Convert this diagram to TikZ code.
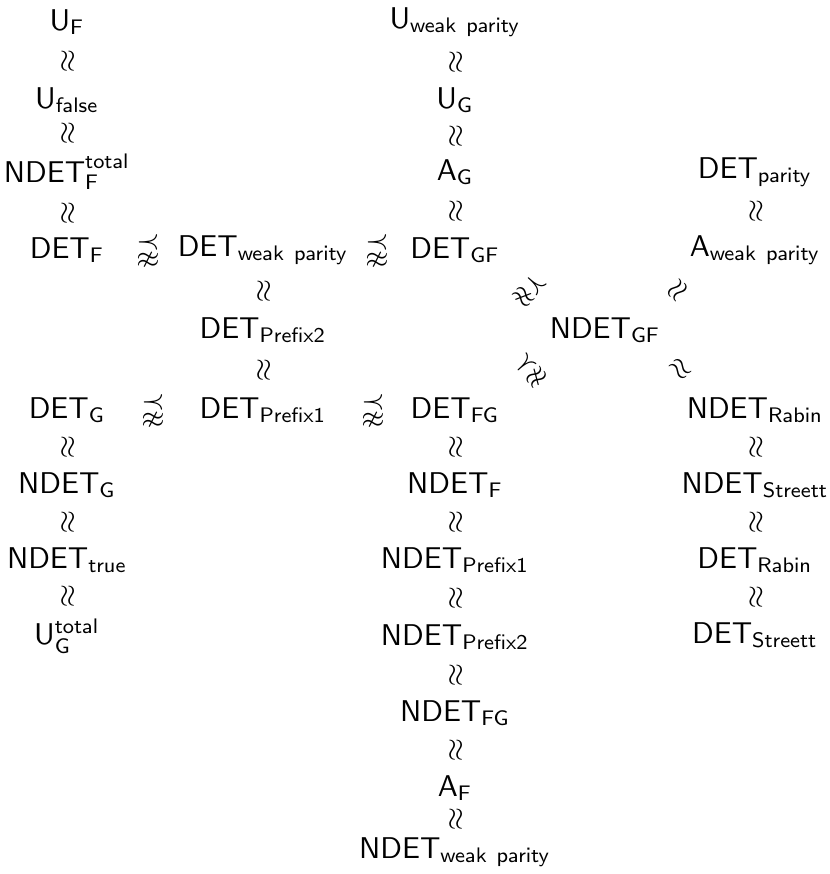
\documentclass[tikz,border=0pt]{standalone}
\usepackage{amssymb}

\newcommand{\cls}[2]{$\mathsf{#1}_{\mathsf{#2}}$}

\begin{document}
\begin{tikzpicture}[
    x=0.333pt, y=-0.333pt,
    cls/.style={inner sep=2pt},
    % 關係符號沿著兩個節點之間的路徑旋轉
    approxrel/.style={sloped, inner sep=0pt},
    diagrel/.style={inner sep=0pt},
    strictrel/.style={inner sep=0pt}
]
\useasboundingbox (0,0) rectangle (830,874);

% --- 1. 左邊的欄 ---
\node[cls] (uf) at (67,22) {\cls{U}{F}};
\node[cls] (ufalse) at (67,100) {\cls{U}{false}};
\node[cls] (ndetftot) at (67,172) {$\mathsf{NDET}^{\mathsf{total}}_{\mathsf{F}}$};
\node[cls] (detf) at (67,250) {\cls{DET}{F}};
\node[cls] (detg) at (67,410) {\cls{DET}{G}};
\node[cls] (ndetg) at (67,485) {\cls{NDET}{G}};
\node[cls] (ndettrue) at (67,560) {\cls{NDET}{true}};
\node[cls] (ugtot) at (67,636) {$\mathsf{U}^{\mathsf{total}}_{\mathsf{G}}$};

% --- 2. 第二欄 (Prefix) ---
\node[cls] (detwp) at (263,250) {\cls{DET}{weak\ parity}};
\node[cls] (detpretwo) at (263,330) {\cls{DET}{Prefix2}};
\node[cls] (detpreone) at (263,410) {\cls{DET}{Prefix1}};

% --- 3. 中間的欄 ---
\node[cls] (uwp) at (455,22) {\cls{U}{weak\ parity}};
\node[cls] (ug) at (455,100) {\cls{U}{G}};
\node[cls] (ag) at (455,172) {\cls{A}{G}};
\node[cls] (detgf) at (455,250) {\cls{DET}{GF}};
\node[cls] (detfg) at (455,410) {\cls{DET}{FG}};
\node[cls] (ndetf) at (455,485) {\cls{NDET}{F}};
\node[cls] (ndetpreone) at (455,560) {\cls{NDET}{Prefix1}};
\node[cls] (ndetpretwo) at (455,637) {\cls{NDET}{Prefix2}};
\node[cls] (ndetfg) at (455,713) {\cls{NDET}{FG}};
\node[cls] (af) at (455,788) {\cls{A}{F}};
\node[cls] (ndetwp) at (455,852) {\cls{NDET}{weak\ parity}};

% --- 4. NDET_GF 與右邊的欄 ---
\node[cls] (ndetgf) at (605,330) {\cls{NDET}{GF}};
\node[cls] (detpar) at (755,172) {\cls{DET}{parity}};
\node[cls] (awp) at (755,250) {\cls{A}{weak\ parity}};
\node[cls] (ndetrabin) at (755,410) {\cls{NDET}{Rabin}};
\node[cls] (ndetstreett) at (755,485) {\cls{NDET}{Streett}};
\node[cls] (detrabin) at (755,560) {\cls{DET}{Rabin}};
\node[cls] (detstreett) at (755,635) {\cls{DET}{Streett}};

% --- 5. 等價符號 (≈) ---
\path (uf) -- node[approxrel] {$\approx$} (ufalse);
\path (ufalse) -- node[approxrel] {$\approx$} (ndetftot);
\path (ndetftot) -- node[approxrel] {$\approx$} (detf);
\path (detg) -- node[approxrel] {$\approx$} (ndetg);
\path (ndetg) -- node[approxrel] {$\approx$} (ndettrue);
\path (ndettrue) -- node[approxrel] {$\approx$} (ugtot);

\path (detwp) -- node[approxrel] {$\approx$} (detpretwo);
\path (detpretwo) -- node[approxrel] {$\approx$} (detpreone);

\path (uwp) -- node[approxrel] {$\approx$} (ug);
\path (ug) -- node[approxrel] {$\approx$} (ag);
\path (ag) -- node[approxrel] {$\approx$} (detgf);
\path (detfg) -- node[approxrel] {$\approx$} (ndetf);
\path (ndetf) -- node[approxrel] {$\approx$} (ndetpreone);
\path (ndetpreone) -- node[approxrel] {$\approx$} (ndetpretwo);
\path (ndetpretwo) -- node[approxrel] {$\approx$} (ndetfg);
\path (ndetfg) -- node[approxrel] {$\approx$} (af);
\path (af) -- node[approxrel] {$\approx$} (ndetwp);

\path (detpar) -- node[approxrel] {$\approx$} (awp);
\path (ndetrabin) -- node[approxrel] {$\approx$} (ndetstreett);
\path (ndetstreett) -- node[approxrel] {$\approx$} (detrabin);
\path (detrabin) -- node[approxrel] {$\approx$} (detstreett);

% 斜的
\path (ndetgf) -- node[diagrel, rotate=50] {$\approx$} (awp);
\path (ndetgf) -- node[diagrel, rotate=-45] {$\approx$} (ndetrabin);

% --- 6. 嚴格小於符號 (⪹) ---
\node[strictrel] (ltfwp) at (148,250) {$\precnapprox$};
\node[strictrel] (ltwpgf) at (377,250) {$\precnapprox$};
\node[strictrel] (ltgpre) at (153,410) {$\precnapprox$};
\node[strictrel] (ltprefg) at (373,410) {$\precnapprox$};
\path (detgf) -- node[diagrel, rotate=-42] {$\precnapprox$} (ndetgf);
\path (detfg) -- node[diagrel, rotate=42] {$\precnapprox$} (ndetgf);

\end{tikzpicture}
\end{document}
